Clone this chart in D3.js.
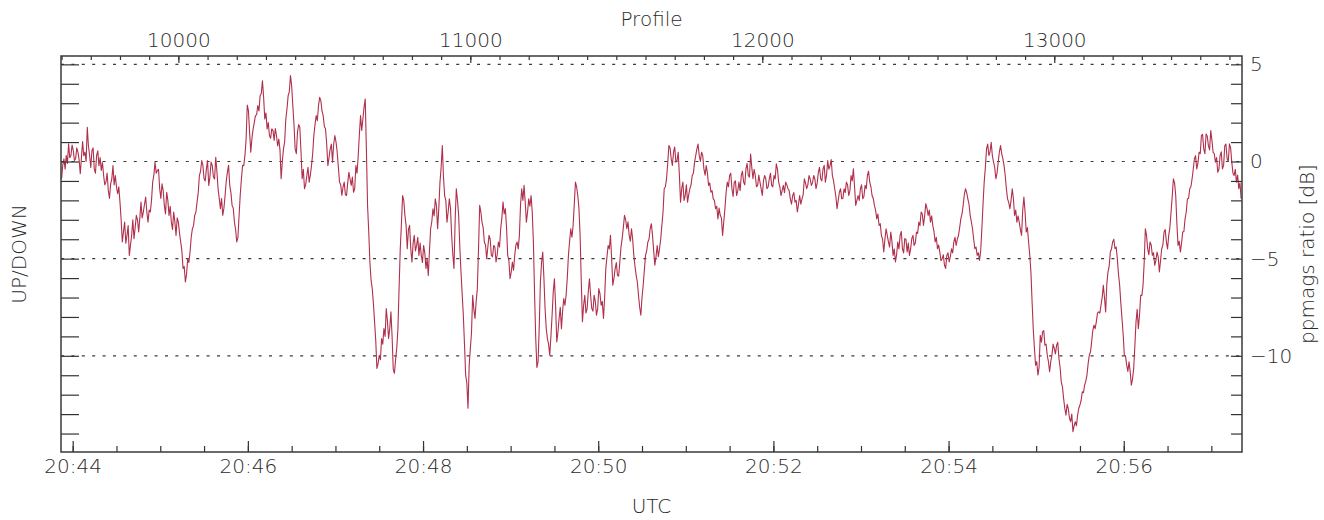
<!DOCTYPE html>
<html>
<head>
<meta charset="utf-8">
<script src="https://cdn.jsdelivr.net/npm/d3@7"></script>
<style>
  body { margin: 0; background: #fff; }
  text { font-family: "DejaVu Sans", sans-serif; font-weight: 200; fill: #2b2b2b; }
</style>
</head>
<body>
<svg id="chart" width="1324" height="520"></svg>
<script>
// Profile sampling of the ratio series
const profileStart = 9600;
const profileStep = 4;
// ppmags UP/DOWN ratio in dB, one value per sampled profile
const ratioDb = [
  -0.89, -0.2, 0.14, -0.4, 0.31, -0.1, 0.91, 0.2, 0.31, 0.85,
  0.57, 0.05, 0.14, 0.7, 0.48, 0.1, -0.63, 0.2, 1.03, 0.3,
  0.48, 0.0, 1.76, 0.8, 0.31, -0.3, 0.57, 0.7, -0.38, -0.6,
  0.31, 0.55, -0.21, 0.2, -0.46, -0.05, -0.72, -1.2, -1.06, -0.6,
  -1.49, -1.9, -1.15, -0.9, -0.21, -1.2, -0.72, -1.3, -1.66, -1.3,
  -2.09, -3.0, -4.14, -3.6, -3.12, -4.2, -3.8, -3.3, -4.83, -4.3,
  -3.8, -3.0, -3.97, -3.4, -2.77, -3.0, -3.63, -2.9, -2.09, -2.9,
  -2.6, -2.2, -1.83, -2.6, -3.12, -2.5, -2.6, -2.0, -1.06, -0.7,
  -0.03, -0.6, -0.46, -0.4, -1.4, -1.9, -1.15, -1.5, -2.26, -2.7,
  -1.58, -2.0, -2.77, -2.3, -3.12, -3.5, -2.6, -3.1, -3.8, -2.9,
  -3.12, -3.7, -4.14, -4.6, -5.51, -5.4, -6.2, -5.8, -5.0, -5.2,
  -4.66, -3.9, -3.46, -3.3, -2.77, -2.6, -2.09, -1.6, -0.72, -0.5,
  0.05, -0.2, -0.89, -1.0, -0.38, 0.05, -1.23, -0.8, -0.03, -0.2,
  -0.8, -0.9, 0.22, -0.5, -1.4, -1.9, -2.43, -1.9, -2.77, -2.4,
  -1.75, -1.0, -0.55, -0.2, -1.23, -1.6, -2.26, -2.4, -3.12, -3.5,
  -4.14, -3.9, -2.77, -1.7, -0.89, -0.2, -0.21, 0.3, 1.16, 2.9,
  2.62, 1.5, 0.48, 1.2, 1.68, 2.0, 2.36, 2.4, 2.88, 2.6,
  3.39, 3.5, 4.16, 3.3, 2.19, 2.5, 1.68, 2.0, 1.34, 1.2,
  1.68, 1.6, 1.08, 1.7, 1.34, 0.8, 1.16, 0.6, -0.89, 0.0,
  0.65, 1.0, 2.19, 2.7, 3.39, 3.6, 4.42, 3.9, 2.88, 1.9,
  0.65, 0.4, 1.51, 1.9, 1.76, 0.5, -0.89, -0.4, -1.4, -1.2,
  -0.72, -0.3, -1.06, -0.7, -0.21, 0.4, 1.34, 1.9, 2.36, 2.1,
  2.88, 3.3, 3.13, 2.6, 2.36, 1.8, 1.68, 0.9, -0.21, 0.2,
  0.65, 0.9, -0.03, 0.9, 1.34, 1.0, 0.48, -0.3, -1.06, -1.2,
  -1.75, -1.3, -1.06, -1.7, -1.75, -1.1, -0.55, -0.9, -1.23, -0.8,
  -1.58, -1.4, -0.21, -0.6, 0.31, 1.4, 2.36, 1.6, 2.19, 2.8,
  3.22, 0.6, -2.26, -3.6, -5.17, -6.1, -6.54, -7.3, -8.25, -9.2,
  -10.65, -10.4, -9.97, -10.2, -9.11, -9.4, -8.6, -9.0, -7.57, -8.2,
  -9.11, -8.6, -7.74, -9.0, -10.7, -10.9, -10.2, -9.6, -8.6, -6.5,
  -4.49, -3.2, -1.75, -2.0, -2.77, -3.3, -4.49, -3.5, -3.29, -4.5,
  -5.17, -4.2, -3.8, -4.6, -4.32, -3.9, -4.83, -4.2, -4.83, -5.2,
  -4.32, -4.7, -5.51, -5.0, -5.86, -4.6, -3.46, -3.1, -2.43, -2.8,
  -1.92, -2.3, -3.46, -2.4, -1.06, -0.3, 0.82, -0.8, -1.75, -2.0,
  -3.12, -2.6, -1.92, -2.4, -3.8, -4.8, -5.51, -3.0, -1.4, -2.0,
  -2.77, -4.4, -5.68, -6.8, -7.91, -9.4, -10.99, -11.4, -12.7, -10.5,
  -9.62, -8.8, -6.88, -7.6, -8.08, -7.2, -6.54, -4.5, -2.26, -2.6,
  -3.12, -3.4, -4.14, -4.3, -5.0, -4.4, -3.8, -4.0, -4.83, -4.9,
  -4.32, -4.4, -5.17, -4.8, -4.14, -4.4, -3.46, -2.9, -2.09, -2.7,
  -2.43, -3.4, -4.83, -5.1, -6.03, -5.7, -5.17, -5.6, -4.83, -4.3,
  -4.14, -4.5, -3.8, -2.2, -1.4, -2.0, -1.23, -2.1, -3.12, -2.6,
  -1.92, -2.3, -1.75, -2.6, -4.14, -6.8, -9.11, -10.6, -10.31, -8.5,
  -6.2, -5.2, -4.66, -6.0, -7.57, -8.6, -9.11, -9.4, -9.97, -9.0,
  -7.91, -6.7, -6.03, -7.4, -9.28, -8.8, -8.08, -7.5, -8.6, -7.7,
  -7.05, -7.4, -6.88, -6.0, -4.83, -4.1, -3.46, -3.9, -3.29, -2.2,
  -1.06, -1.3, -1.75, -2.4, -3.8, -6.2, -8.25, -7.4, -6.88, -7.8,
  -7.57, -6.7, -6.03, -6.9, -7.57, -7.7, -6.88, -7.2, -7.91, -7.6,
  -6.54, -6.8, -7.4, -7.2, -8.08, -7.0, -5.51, -4.9, -4.32, -4.5,
  -3.8, -5.0, -6.37, -6.0, -5.51, -5.2, -5.86, -5.9, -5.17, -4.4,
  -3.97, -3.4, -2.77, -3.0, -3.46, -3.1, -3.8, -4.1, -3.46, -4.0,
  -4.83, -5.4, -5.86, -6.2, -6.88, -7.5, -7.91, -7.0, -6.37, -5.6,
  -4.83, -4.6, -4.14, -4.0, -3.46, -3.2, -3.8, -4.6, -5.34, -4.9,
  -4.32, -4.9, -4.49, -4.0, -3.29, -2.6, -1.4, -1.3, -0.89, -0.1,
  0.82, 0.7, 0.14, -0.2, 0.48, 0.75, -0.03, 0.05, 0.48, -0.7,
  -2.09, -1.4, -1.06, -2.0, -1.75, -1.2, -2.09, -1.7, -1.4, -1.2,
  -0.72, -0.6, -0.03, 0.3, 0.65, 0.9, 0.31, 0.0, 0.48, 0.3,
  -0.38, -0.7, -0.21, -0.6, -1.23, -1.1, -1.58, -1.5, -1.92, -2.0,
  -2.43, -2.3, -2.95, -2.4, -2.77, -2.9, -3.8, -3.1, -2.43, -1.6,
  -1.06, -1.3, -0.72, -0.6, -1.4, -1.8, -1.06, -1.0, -1.75, -1.5,
  -1.06, -1.5, -0.72, -0.5, -1.06, -1.2, -0.38, -0.1, -0.72, -0.8,
  0.39, -0.3, -0.89, -0.4, -0.72, -1.3, -1.23, -0.7, -1.06, -1.4,
  -1.75, -1.0, -0.72, -0.9, -1.4, -1.3, -0.89, -0.6, -1.23, -1.3,
  -0.72, -0.9, -0.12, -0.4, -1.06, -1.3, -1.75, -1.5, -1.23, -1.6,
  -1.06, -1.2, -1.4, -1.5, -1.92, -2.2, -1.75, -1.6, -2.09, -2.0,
  -2.6, -2.2, -1.75, -2.2, -1.92, -1.7, -0.89, -1.1, -1.4, -1.2,
  -0.72, -0.9, -1.23, -1.1, -0.72, -0.9, -1.4, -1.1, -0.55, -0.3,
  -0.89, -1.0, -0.38, -0.2, -1.06, -0.7, 0.05, -0.4, -0.21, 0.1,
  -0.72, -1.0, -1.4, -1.8, -2.43, -2.0, -1.58, -1.4, -1.92, -1.9,
  -1.4, -1.6, -1.06, -1.2, -1.75, -1.5, -0.72, -1.0, -0.38, -1.3,
  -2.26, -2.0, -1.75, -2.0, -1.4, -1.2, -1.92, -1.8, -1.23, -1.4,
  -0.72, -0.5, -1.06, -1.3, -1.75, -1.9, -2.26, -2.5, -2.95, -2.7,
  -3.29, -3.2, -3.8, -4.0, -4.66, -4.0, -3.46, -3.8, -4.14, -4.4,
  -3.63, -4.1, -4.83, -4.5, -5.17, -4.8, -4.14, -4.5, -3.8, -3.6,
  -4.49, -4.7, -3.97, -4.0, -4.66, -4.2, -4.83, -4.5, -3.97, -3.8,
  -4.32, -4.2, -3.63, -3.7, -3.12, -3.3, -2.6, -2.7, -3.29, -2.8,
  -2.17, -2.4, -2.77, -2.5, -3.12, -2.8, -3.29, -3.6, -4.14, -3.9,
  -4.49, -4.3, -4.66, -5.1, -5.0, -4.8, -5.34, -5.5, -4.83, -4.7,
  -5.17, -4.9, -4.49, -4.7, -4.14, -3.9, -4.32, -4.0, -3.8, -3.4,
  -2.95, -2.7, -2.26, -1.7, -1.4, -1.6, -1.92, -2.2, -2.77, -3.1,
  -3.46, -4.0, -4.49, -4.4, -4.83, -4.7, -5.09, -4.6, -3.46, -2.2,
  -1.06, -0.3, 0.65, 0.9, 0.31, 0.5, 0.99, 0.3, -0.03, -0.3,
  -0.89, -0.6, -0.03, 0.5, 0.82, 0.4, 0.14, -0.2, -0.72, -1.4,
  -1.92, -2.1, -2.43, -2.0, -1.4, -1.9, -2.77, -2.5, -3.12, -2.8,
  -3.12, -3.5, -3.8, -2.5, -1.83, -2.6, -3.63, -3.4, -4.14, -4.8,
  -5.68, -7.2, -8.6, -9.6, -10.48, -10.3, -10.99, -10.6, -8.94, -9.3,
  -8.77, -8.7, -9.45, -9.4, -9.97, -10.3, -10.82, -10.3, -9.97, -9.4,
  -9.62, -9.9, -9.45, -9.3, -10.14, -10.6, -11.34, -11.6, -12.19, -12.7,
  -13.05, -12.5, -12.71, -13.2, -13.39, -13.0, -13.9, -13.6, -13.39, -13.6,
  -13.05, -12.7, -12.53, -12.3, -11.85, -11.9, -11.51, -11.3, -10.99, -10.4,
  -9.97, -9.8, -9.28, -8.7, -8.42, -8.6, -8.25, -7.8, -7.74, -7.8,
  -7.4, -7.0, -6.37, -7.0, -7.74, -6.3, -5.68, -5.4, -4.66, -4.5,
  -4.14, -4.0, -4.49, -4.4, -5.0, -5.8, -6.37, -7.3, -8.08, -8.9,
  -9.97, -10.0, -10.48, -10.8, -10.31, -10.8, -11.51, -11.2, -10.65, -9.5,
  -8.25, -7.6, -8.6, -7.9, -6.88, -6.9, -6.37, -5.2, -3.46, -3.8,
  -4.49, -4.8, -4.14, -4.3, -4.83, -4.7, -5.34, -5.1, -4.66, -4.9,
  -5.68, -5.1, -4.49, -4.3, -3.63, -3.5, -4.14, -4.5, -3.8, -3.4,
  -2.6, -1.8, -0.89, -1.1, -1.75, -3.2, -4.32, -4.1, -4.66, -4.2,
  -3.63, -3.6, -2.95, -2.6, -1.92, -1.9, -1.4, -1.3, -0.89, -0.4,
  0.14, 0.3, -0.38, -0.1, 0.48, 0.4, 1.34, 1.4, 0.65, 0.4,
  1.42, 1.3, 0.82, 0.6, 1.59, 1.1, 0.48, 0.4, -0.03, 0.2,
  -0.55, -0.4, 0.31, 0.5, -0.38, -0.2, 0.82, 0.9, 0.14, 0.0,
  0.91, 0.7, -0.03, -0.6, -0.72, -0.4, -1.06, -0.7, -1.4, -1.1,
  -1.92
];

// Axis extents and tick labels
const profileDomain = [9598, 13643];
const ratioDomain = [-14.95, 5.43];
const profileTicks = [10000, 11000, 12000, 13000];
const ratioTicks = [5, 0, -5, -10];
const timeTickLabels = ["20:44", "20:46", "20:48", "20:50", "20:52", "20:54", "20:56"];
// Profile 10000 was taken at 20:45:12.4 UTC, one profile every 0.2 s
const referenceProfile = 10000;
const referenceTime = "20:45:12.4";
const profileCadenceMs = 200;

const margin = { left: 61, right: 1242, top: 56, bottom: 452 };
const svg = d3.select("#chart");

const parseClock = s => {
  const [h, m, sec] = s.split(":");
  return new Date(Date.UTC(2000, 0, 1, +h, +m, 0) + (sec ? +sec * 1000 : 0));
};
const refDate = parseClock(referenceTime);
const timeOfProfile = p => new Date(refDate.getTime() + (p - referenceProfile) * profileCadenceMs);

const xProfile = d3.scaleLinear().domain(profileDomain).range([margin.left, margin.right]);
const xTime = d3.scaleUtc().domain(profileDomain.map(timeOfProfile)).range([margin.left, margin.right]);
const y = d3.scaleLinear().domain(ratioDomain).range([margin.bottom, margin.top]);

const series = ratioDb.map((v, i) => ({ profile: profileStart + i * profileStep, value: v }));

// dotted reference lines
svg.append("g")
  .selectAll("line")
  .data(ratioTicks)
  .join("line")
  .attr("x1", margin.left).attr("x2", margin.right)
  .attr("y1", d => y(d)).attr("y2", d => y(d))
  .attr("stroke", "#3a3a3a")
  .attr("stroke-width", 1.2)
  .attr("stroke-dasharray", "3,7.4");

// clip for the trace
svg.append("clipPath").attr("id", "plotclip")
  .append("rect")
  .attr("x", margin.left).attr("y", margin.top)
  .attr("width", margin.right - margin.left).attr("height", margin.bottom - margin.top);

svg.append("path")
  .datum(series)
  .attr("clip-path", "url(#plotclip)")
  .attr("fill", "none")
  .attr("stroke", "#b0304c")
  .attr("stroke-width", 1.1)
  .attr("stroke-linejoin", "round")
  .attr("d", d3.line().x(d => xProfile(d.profile)).y(d => y(d.value)));

const axisStyle = g => {
  g.select(".domain").remove();
  g.selectAll(".tick line").attr("stroke", "#333").attr("stroke-width", 1.2);
  g.selectAll(".tick text").attr("fill", "#2b2b2b").style("font-size", "20px");
};

// top axis: profile number, minor ticks every 100 profiles
svg.append("g").attr("transform", `translate(0,${margin.top})`)
  .call(d3.axisTop(xProfile).tickValues(d3.range(9600, 13700, 100)).tickSize(-4).tickFormat(""))
  .call(axisStyle);
svg.append("g").attr("transform", `translate(0,${margin.top})`)
  .call(d3.axisTop(xProfile).tickValues(profileTicks).tickSize(-7).tickPadding(9).tickFormat(d3.format("d")))
  .call(axisStyle);

// bottom axis: UTC, minor ticks every 30 s
const [t0, t1] = xTime.domain();
svg.append("g").attr("transform", `translate(0,${margin.bottom})`)
  .call(d3.axisBottom(xTime).tickValues(d3.utcSecond.every(30).range(t0, t1)).tickSize(-6).tickFormat(""))
  .call(axisStyle);
svg.append("g").attr("transform", `translate(0,${margin.bottom})`)
  .call(d3.axisBottom(xTime).tickValues(timeTickLabels.map(parseClock)).tickSize(-11).tickPadding(7).tickFormat(d3.utcFormat("%H:%M")))
  .call(axisStyle);

// left axis: ticks every 1 dB, unlabeled
svg.append("g").attr("transform", `translate(${margin.left},0)`)
  .call(d3.axisLeft(y).tickValues(d3.range(-14, 6, 1)).tickSize(-18).tickFormat(""))
  .call(axisStyle);

// right axis: ticks every 1 dB, labels every 5 dB
svg.append("g").attr("transform", `translate(${margin.right},0)`)
  .call(d3.axisRight(y).tickValues(d3.range(-14, 6, 1)).tickSize(-11).tickFormat(""))
  .call(axisStyle);
svg.append("g").attr("transform", `translate(${margin.right},0)`)
  .call(d3.axisRight(y).tickValues(ratioTicks).tickSize(0).tickPadding(8).tickFormat(d => d < 0 ? "\u2212" + Math.abs(d) : String(d)))
  .call(axisStyle);

// frame
svg.append("rect")
  .attr("x", margin.left).attr("y", margin.top)
  .attr("width", margin.right - margin.left).attr("height", margin.bottom - margin.top)
  .attr("fill", "none").attr("stroke", "#3a3a3a").attr("stroke-width", 1.5);

// axis titles
const midX = (margin.left + margin.right) / 2;
svg.append("text").attr("x", midX).attr("y", 26).attr("text-anchor", "middle")
  .style("font-size", "20px").text("Profile");
svg.append("text").attr("x", midX).attr("y", 513).attr("text-anchor", "middle")
  .style("font-size", "20px").text("UTC");
svg.append("text").attr("transform", `translate(26,${(margin.top + margin.bottom) / 2}) rotate(-90)`)
  .attr("text-anchor", "middle").style("font-size", "20px").text("UP/DOWN");
svg.append("text").attr("transform", `translate(1314,${(margin.top + margin.bottom) / 2}) rotate(-90)`)
  .attr("text-anchor", "middle").style("font-size", "20px").text("ppmags ratio [dB]");
</script>
</body>
</html>
